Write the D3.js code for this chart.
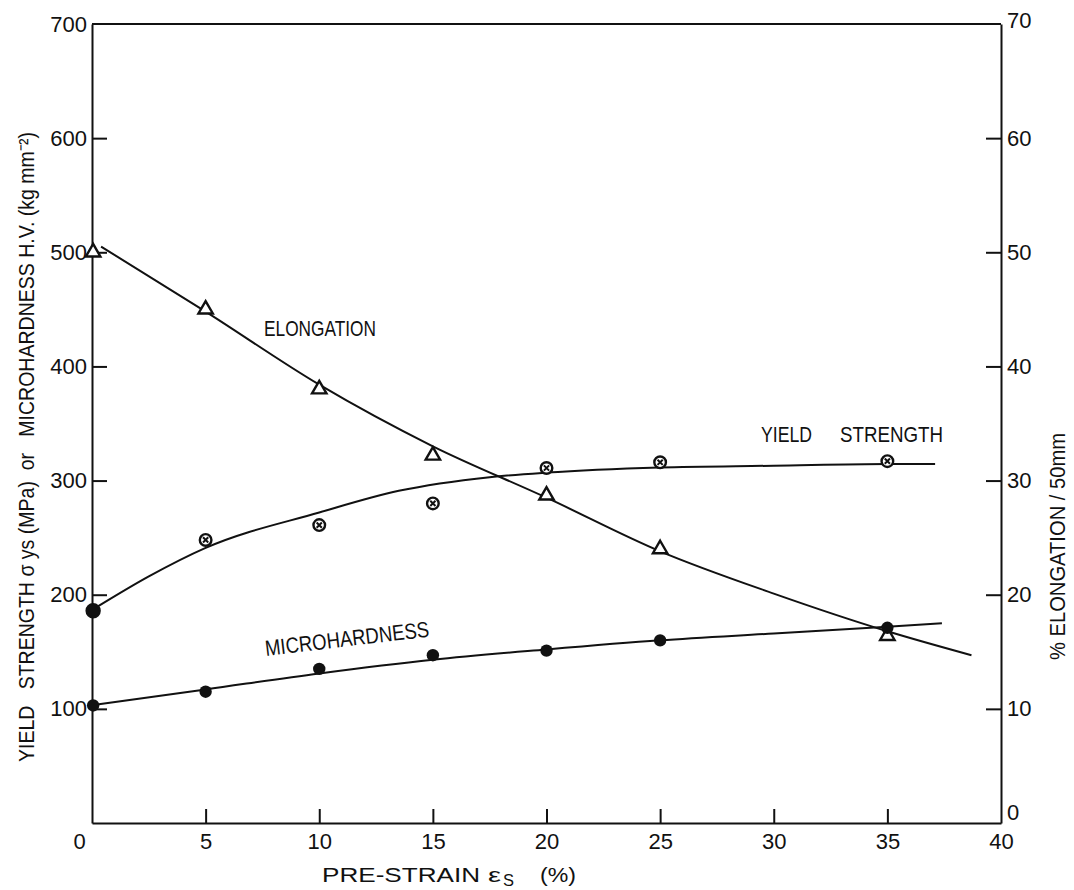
<!DOCTYPE html>
<html>
<head>
<meta charset="utf-8">
<script src="https://cdn.jsdelivr.net/npm/d3@7"></script>
<style>
  body { margin: 0; background: #fff; }
  text { font-family: "Liberation Sans", Arial, sans-serif; fill: #111; }
</style>
</head>
<body>
<div id="chart"></div>
<script>
"use strict";

// measured points (pre-strain %)
const strainPoints = [0.05, 5, 10, 15, 20, 25, 35];
const elongationValues = [50, 45, 38, 32.2, 28.7, 24, 16.4];
const yieldValues = [186, 248, 261, 280, 311, 316, 317];
const microValues = [103, 115, 135, 147, 151, 160, 171];

// hand drawn fit curves
const elongationFit = [[0.4, 50.5], [5, 44.8], [10, 38.4], [15, 33.0], [20, 28.5], [25, 23.8], [30, 20.1], [35, 16.8], [38.7, 14.7]];
const yieldFit = [[0.2, 189], [2.5, 216], [5, 241], [10, 272], [13.5, 291], [17.5, 303], [20, 307], [25, 311.5], [30, 313], [35, 314.5], [37.1, 314.5]];
const microFit = [[0.3, 104], [5, 117], [10, 131], [15, 143], [20, 152], [25, 160], [30, 166], [35, 172], [37.4, 175]];

// tick labels
const xTicks = [0, 5, 10, 15, 20, 25, 30, 35, 40];
const leftTicks = [100, 200, 300, 400, 500, 600, 700];
const rightTicks = [0, 10, 20, 30, 40, 50, 60, 70];

const width = 1074;
const height = 890;
const plot = { left: 92, right: 1001, top: 24, bottom: 823 };

let svg = d3.select("#chart").append("svg")
    .attr("width", width)
    .attr("height", height);

let xScale = d3.scaleLinear().domain([0, 40]).range([plot.left, plot.right]);
let yLeft = d3.scaleLinear().domain([0, 700]).range([plot.bottom, plot.top]);
let yRight = d3.scaleLinear().domain([0, 70]).range([plot.bottom, plot.top]);

function styleAxis(g) {
    g.select(".domain").attr("stroke", "#111").attr("stroke-width", 2);
    g.selectAll(".tick line").attr("stroke", "#111").attr("stroke-width", 2);
    g.selectAll(".tick text").style("font-size", "22px").attr("fill", "#111");
}

// x axis with inward ticks
let xAxis = svg.append("g")
    .attr("transform", `translate(0,${plot.bottom})`)
    .call(d3.axisBottom(xScale).tickValues(xTicks).tickSizeInner(-14).tickSizeOuter(0).tickPadding(10))
    .call(styleAxis);
xAxis.selectAll(".tick").filter(d => d === 0 || d === 40).select("line").remove();
xAxis.selectAll(".tick").filter(d => d === 0).select("text").attr("dx", -13);

// left axis
let leftAxis = svg.append("g")
    .attr("transform", `translate(${plot.left},0)`)
    .call(d3.axisLeft(yLeft).tickValues(leftTicks).tickSizeInner(-15).tickSizeOuter(0).tickPadding(5))
    .call(styleAxis);
leftAxis.selectAll(".tick").filter(d => d === 700).select("line").remove();

// right axis
let rightAxis = svg.append("g")
    .attr("transform", `translate(${plot.right},0)`)
    .call(d3.axisRight(yRight).tickValues(rightTicks).tickSizeInner(-15).tickSizeOuter(0).tickPadding(6))
    .call(styleAxis);
rightAxis.selectAll(".tick").filter(d => d === 0 || d === 70).select("line").remove();
rightAxis.selectAll(".tick").filter(d => d === 0).select("text").attr("dy", "-0.15em");
rightAxis.selectAll(".tick").filter(d => d === 70).select("text").attr("dy", "0.15em");

// top frame line
svg.append("line")
    .attr("x1", plot.left).attr("x2", plot.right)
    .attr("y1", plot.top).attr("y2", plot.top)
    .attr("stroke", "#111").attr("stroke-width", 2);

// fit curves
function drawCurve(points, yScale) {
    let line = d3.line()
        .x(d => xScale(d[0]))
        .y(d => yScale(d[1]))
        .curve(d3.curveMonotoneX);
    svg.append("path")
        .datum(points)
        .attr("d", line)
        .attr("fill", "none")
        .attr("stroke", "#111")
        .attr("stroke-width", 2);
}
drawCurve(elongationFit, yRight);
drawCurve(yieldFit, yLeft);
drawCurve(microFit, yLeft);

// elongation triangles
let tri = d3.symbol().type(d3.symbolTriangle).size(90);
svg.selectAll(".tri")
    .data(strainPoints)
    .enter()
    .append("path")
    .attr("class", "tri")
    .attr("d", tri)
    .attr("transform", (d, i) => `translate(${xScale(d)},${yRight(elongationValues[i])})`)
    .attr("fill", "#fff")
    .attr("stroke", "#111")
    .attr("stroke-width", 2.4);

// yield strength: circled cross (first point solid)
let ys = svg.selectAll(".ys")
    .data(strainPoints)
    .enter()
    .append("g")
    .attr("class", "ys")
    .attr("transform", (d, i) => `translate(${xScale(d)},${yLeft(yieldValues[i])})`);
ys.append("circle")
    .attr("r", (d, i) => i === 0 ? 6.5 : 5.8)
    .attr("fill", (d, i) => i === 0 ? "#111" : "#fff")
    .attr("stroke", "#111")
    .attr("stroke-width", 2.4);
ys.filter((d, i) => i > 0).append("path")
    .attr("d", "M-2.6,-2.6L2.6,2.6M-2.6,2.6L2.6,-2.6")
    .attr("stroke", "#111")
    .attr("stroke-width", 2);

// microhardness dots
svg.selectAll(".mh")
    .data(strainPoints)
    .enter()
    .append("circle")
    .attr("class", "mh")
    .attr("cx", d => xScale(d))
    .attr("cy", (d, i) => yLeft(microValues[i]))
    .attr("r", 6.2)
    .attr("fill", "#111");

// curve labels
function label(txt, x, y, len, size, rotate) {
    let t = svg.append("text")
        .attr("x", x)
        .attr("y", y)
        .attr("textLength", len)
        .attr("lengthAdjust", "spacingAndGlyphs")
        .style("font-size", `${size}px`)
        .style("white-space", "pre")
        .text(txt);
    if (rotate) {
        t.attr("transform", `rotate(${rotate},${x},${y})`);
    }
    return t;
}

label("ELONGATION", 264, 336, 112, 22);
label("YIELD", 761, 442, 51, 22);
label("STRENGTH", 840, 442, 103, 22);
label("MICROHARDNESS", 266, 656, 165, 22, -6.8);

// axis titles
label("YIELD   STRENGTH σ ys (MPa)  or   MICROHARDNESS H.V. (kg mm⁻²)", 34, 762, 630, 22, -90);
label("% ELONGATION / 50mm", 1065, 660, 227, 22, -90);
label("PRE-STRAIN", 322, 882, 158, 21);
label("ε", 488, 882, 13, 21);
label("S", 503, 886, 11, 16);
label("(%)", 540, 882, 36, 21);
</script>
</body>
</html>
